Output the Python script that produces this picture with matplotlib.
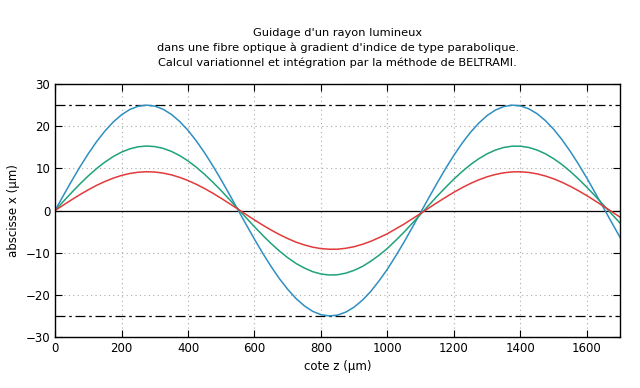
import matplotlib
matplotlib.use("Agg")
import matplotlib.pyplot as plt

# z positions (µm), every 25 µm
z = list(range(0, 1701, 25))

# ray positions x (µm)
x_blue = [0, 3.55, 7.03, 10.36, 13.48, 16.34, 18.85, 20.99, 22.71, 23.96,
          24.73, 25.00, 24.76, 24.02, 22.80, 21.11, 19.01, 16.50, 13.68, 10.56,
          7.25, 3.76, 0.21, -3.33, -6.82, -10.16, -13.28, -16.18, -18.69, -20.88,
          -22.61, -23.91, -24.70, -25.00, -24.80, -24.08, -22.89, -21.23, -19.17, -16.65,
          -13.89, -10.75, -7.47, -3.97, -0.43, 3.12, 6.61, 9.97, 13.12, 16.01,
          18.57, 20.76, 22.54, 23.84, 24.66, 25.00, 24.82, 24.13, 22.97, 21.33,
          19.27, 16.81, 14.02, 10.95, 7.66, 4.18, 0.64, -2.91, -6.41]

x_green = [0, 2.16, 4.27, 6.30, 8.21, 9.95, 11.48, 12.80, 13.85, 14.63,
           15.12, 15.30, 15.17, 14.75, 14.03, 13.03, 11.77, 10.27, 8.57, 6.70,
           4.70, 2.58, 0.43, -1.73, -3.86, -5.90, -7.83, -9.61, -11.18, -12.56,
           -13.64, -14.50, -15.05, -15.29, -15.23, -14.85, -14.18, -13.25, -12.01, -10.59,
           -8.97, -7.08, -5.11, -3.00, -0.86, 1.30, 3.44, 5.50, 7.46, 9.27,
           10.90, 12.30, 13.46, 14.35, 14.96, 15.26, 15.26, 14.96, 14.35, 13.46,
           12.29, 10.90, 9.26, 7.47, 5.51, 3.44, 1.30, -0.87, -3.01]

x_red = [0, 1.29, 2.56, 3.78, 4.92, 5.97, 6.89, 7.68, 8.32, 8.79,
         9.08, 9.20, 9.13, 8.88, 8.46, 7.86, 7.11, 6.22, 5.21, 4.09,
         2.89, 1.63, 0.34, -0.96, -2.24, -3.47, -4.63, -5.70, -6.65, -7.50,
         -8.16, -8.69, -9.03, -9.18, -9.17, -8.95, -8.57, -8.01, -7.29, -6.42,
         -5.49, -4.35, -3.21, -1.95, -0.68, 0.62, 1.91, 3.15, 4.34, 5.44,
         6.43, 7.29, 8.01, 8.56, 8.95, 9.16, 9.19, 9.03, 8.70, 8.19,
         7.52, 6.70, 5.74, 4.67, 3.52, 2.28, 1.01, -0.29, -1.58]

core_limit = 25

title = ("Guidage d'un rayon lumineux\n"
         "dans une fibre optique à gradient d'indice de type parabolique.\n"
         "Calcul variationnel et intégration par la méthode de BELTRAMI.")

fig = plt.figure(figsize=(6.4, 3.88), dpi=100)
ax = fig.add_axes([0.086, 0.1314, 0.883, 0.652])

ax.axhline(core_limit, color="black", lw=0.9, dashes=(8, 3, 2, 3))
ax.axhline(-core_limit, color="black", lw=0.9, dashes=(8, 3, 2, 3))
ax.axhline(0, color="black", lw=0.9)

ax.plot(z, x_blue, color="#2f8ec2", lw=1.1)
ax.plot(z, x_green, color="#1fa27c", lw=1.1)
ax.plot(z, x_red, color="#e23a3a", lw=1.1)

ax.set_xlim(0, 1700)
ax.set_ylim(-30, 30)
ax.set_xticks(range(0, 1601, 200))
ax.set_yticks(range(-30, 31, 10))
ax.grid(True, color="#aaaaaa", linestyle=(0, (1, 3)), lw=0.8)
ax.tick_params(direction="in", top=True, right=True, length=5, labelsize=8.5)
for s in ax.spines.values():
    s.set_linewidth(1.0)

ax.set_xlabel("cote z (µm)", fontsize=8.5)
ax.set_ylabel("abscisse x (µm)", fontsize=8.5)
ax.set_title(title, fontsize=8.2, linespacing=1.55, pad=13)

fig.savefig("out.png", dpi=100)
